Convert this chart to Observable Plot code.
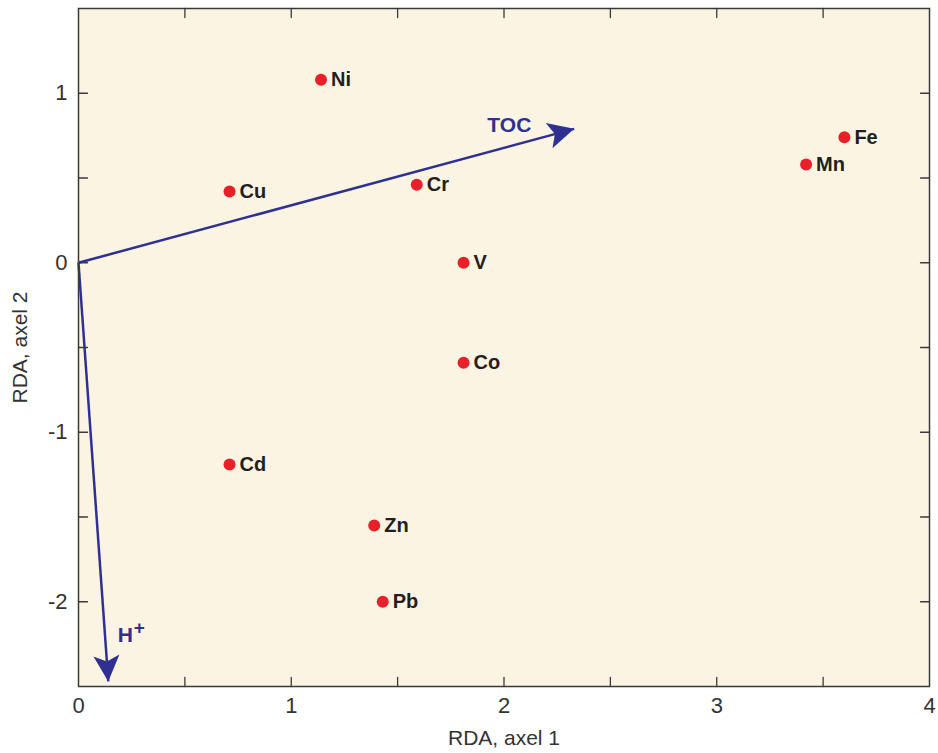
<!DOCTYPE html>
<html>
<head>
<meta charset="utf-8">
<script src="https://cdn.jsdelivr.net/npm/d3@7"></script>
<script src="https://cdn.jsdelivr.net/npm/@observablehq/plot@0.6"></script>
<style>
  html, body { margin: 0; padding: 0; background: #ffffff; }
  #chart { width: 938px; height: 753px; }
</style>
</head>
<body>
<div id="chart"></div>
<script>
// ---- data ----
const elements = ["Ni", "Cu", "Cr", "V", "Co", "Cd", "Zn", "Pb", "Fe", "Mn"];
const axis1 = [1.14, 0.71, 1.59, 1.81, 1.81, 0.71, 1.39, 1.43, 3.60, 3.42];
const axis2 = [1.08, 0.42, 0.46, 0.00, -0.59, -1.19, -1.55, -2.00, 0.74, 0.58];

const vectorNames = ["TOC", "H"];
const vectorX = [2.33, 0.14];
const vectorY = [0.79, -2.47];
const vectorLabelX = [2.025, 0.22];
const vectorLabelY = [0.81, -2.195];

const xTickLabels = [0, 1, 2, 3, 4];
const yTickLabels = [-2, -1, 0, 1];
const xTickMarks = [0.5, 1, 1.5, 2, 2.5, 3, 3.5];
const yTickMarks = [-2, -1.5, -1, -0.5, 0, 0.5, 1];
const xDomain = [0, 4];
const yDomain = [-2.5, 1.5];

// ---- layout ----
const W = 938, H = 753;
const mL = 78, mR = 9, mT = 8, mB = 67;
const kx = (W - mL - mR) / (xDomain[1] - xDomain[0]);
const ky = (H - mT - mB) / (yDomain[1] - yDomain[0]);

const points = elements.map((e, i) => ({name: e, x: axis1[i], y: axis2[i]}));
const vecs = vectorNames.map((n, i) => ({
  name: n, x: vectorX[i], y: vectorY[i], lx: vectorLabelX[i], ly: vectorLabelY[i],
  angle: Math.atan2(vectorX[i] * kx, vectorY[i] * ky) * 180 / Math.PI
}));

const tickShape = {draw(ctx, l) { ctx.moveTo(0, 0); ctx.lineTo(0, -l); }};
const headShape = {draw(ctx, l) {
  ctx.moveTo(0, -l); ctx.lineTo(13, 0); ctx.lineTo(0, -6); ctx.lineTo(-13, 0); ctx.closePath();
}};

const ink = "#3a3a3a";
const navy = "#2e3192";
const font = "'Liberation Sans', Arial, Helvetica, sans-serif";

const chart = Plot.plot({
  width: W, height: H,
  marginLeft: mL, marginRight: mR, marginTop: mT, marginBottom: mB,
  style: {fontFamily: font, background: "#ffffff", color: "#333"},
  x: {domain: xDomain, axis: null},
  y: {domain: yDomain, axis: null},
  marks: [
    Plot.frame({fill: "#fcf4e3", stroke: "none"}),
    // inward ticks on all four sides
    Plot.vector(xTickMarks, {x: d => d, y: yDomain[0], length: 9, rotate: 0, anchor: "start", shape: tickShape, stroke: ink, strokeWidth: 1.3}),
    Plot.vector(xTickMarks, {x: d => d, y: yDomain[1], length: 9, rotate: 180, anchor: "start", shape: tickShape, stroke: ink, strokeWidth: 1.3}),
    Plot.vector(yTickMarks, {y: d => d, x: xDomain[0], length: 9, rotate: 90, anchor: "start", shape: tickShape, stroke: ink, strokeWidth: 1.3}),
    Plot.vector(yTickMarks, {y: d => d, x: xDomain[1], length: 9, rotate: -90, anchor: "start", shape: tickShape, stroke: ink, strokeWidth: 1.3}),
    // tick labels
    Plot.text(xTickLabels, {x: d => d, frameAnchor: "bottom", dy: 19, text: d => String(d), fontSize: 22, textAnchor: "middle", lineAnchor: "middle", fill: "#333"}),
    Plot.text(yTickLabels, {y: d => d, frameAnchor: "left", dx: -11, text: d => String(d), fontSize: 22, textAnchor: "end", lineAnchor: "middle", fill: "#333"}),
    Plot.text(["RDA, axel 1"], {frameAnchor: "bottom", dy: 52, fontSize: 21, textAnchor: "middle", lineAnchor: "middle", fill: "#333"}),
    Plot.text(["RDA, axel 2"], {frameAnchor: "left", dx: -58, rotate: -90, fontSize: 21, textAnchor: "middle", lineAnchor: "middle", fill: "#333"}),
    // environmental vectors
    Plot.link(vecs, {x1: 0, y1: 0, x2: "x", y2: "y", stroke: navy, strokeWidth: 2.5}),
    Plot.vector(vecs, {x: "x", y: "y", length: 26, rotate: "angle", anchor: "end", shape: headShape, fill: navy, stroke: "none"}),
    Plot.text(vecs, {x: "lx", y: "ly", text: "name", fill: navy, fontSize: 21, fontWeight: "bold", textAnchor: "middle"}),
    Plot.text(vecs.filter(d => d.name === "H"), {x: "lx", y: "ly", text: () => "+", dx: 14, dy: -7, fill: navy, fontSize: 19, fontWeight: "bold", textAnchor: "middle"}),
    // element scores
    Plot.dot(points, {x: "x", y: "y", r: 6, fill: "#e8202a", stroke: "none"}),
    Plot.text(points, {x: "x", y: "y", text: "name", dx: 10, textAnchor: "start", fontSize: 20, fontWeight: "bold", fill: "#231f20"}),
    Plot.frame({stroke: ink, strokeWidth: 1.5})
  ]
});
document.getElementById("chart").appendChild(chart);
</script>
</body>
</html>
